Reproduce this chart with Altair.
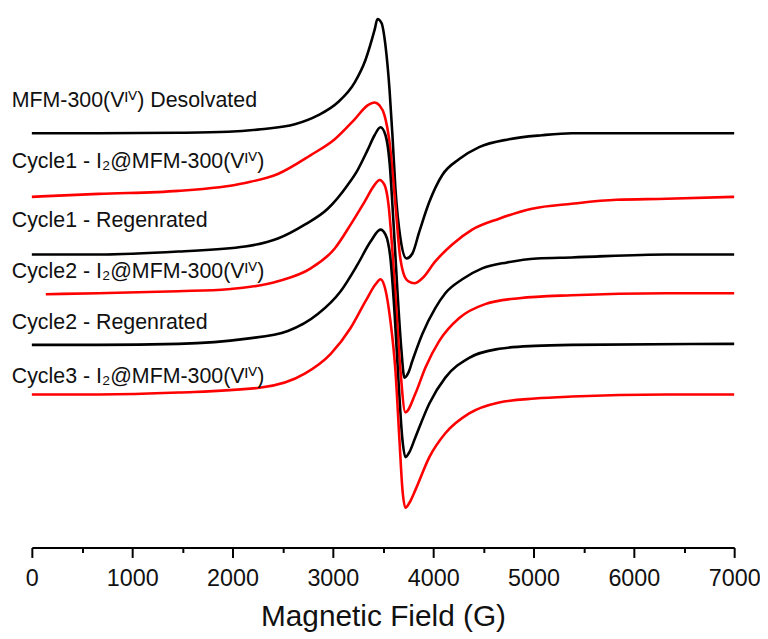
import altair as alt
import pandas as pd

# ---- data (field in G, intensity in arbitrary units) ----
series_names = [
    "Desolvated", "Cycle1 I2", "Cycle1 Regen", "Cycle2 I2", "Cycle2 Regen", "Cycle3 I2",
]
series_colors = ["#000000", "#ff0000", "#000000", "#ff0000", "#000000", "#ff0000"]

desolv_field = [0, 665, 1460, 1956, 2284, 2621, 2850, 3048, 3217, 3326, 3416, 3445, 3485, 3525,
                3565, 3594, 3624, 3674, 3733, 3793, 3862, 3962, 4091, 4260, 4458, 4756, 5084,
                5382, 7000]
desolv_int = [417, 417, 417.5, 418.5, 421, 426, 435, 448, 468, 491, 521, 532, 528, 505,
              461, 415, 361, 311, 291, 296, 318, 348, 375, 391, 403, 411, 415,
              417, 417]

c1i_field = [0, 665, 1459, 2125, 2452, 2780, 3019, 3217, 3346, 3416, 3465, 3515, 3565, 3604,
             3634, 3664, 3704, 3753, 3813, 3892, 4021, 4190, 4389, 4657, 4985, 5382, 5828,
             6325, 7000]
c1i_int = [353, 356, 359, 367, 376, 395, 411, 431, 445, 448, 445, 435, 408, 368,
           333, 298, 276, 268, 266, 271, 288, 305, 320, 331, 341, 346, 350,
           351, 353]

c1r_field = [0, 665, 1460, 2125, 2452, 2720, 2949, 3148, 3247, 3346, 3416, 3475, 3525, 3565,
             3604, 3644, 3684, 3713, 3753, 3793, 3892, 4021, 4121, 4290, 4488, 4736, 5034,
             5382, 6325, 7000]
c1r_int = [295, 295, 298, 303, 311, 325, 341, 365, 380, 400, 415, 423, 415, 388,
           328, 258, 198, 171, 176, 188, 215, 241, 256, 270, 281, 287, 291,
           292, 295, 295]

c2i_field = [139, 665, 1460, 1956, 2452, 2780, 3019, 3177, 3316, 3416, 3465, 3515, 3555, 3594,
             3634, 3674, 3723, 3823, 3922, 4061, 4260, 4518, 4856, 5382, 6325, 7000]
c2i_int = [255, 256, 258, 260, 268, 281, 301, 325, 348, 365, 370, 365, 345, 298,
           238, 178, 136, 155, 181, 208, 231, 245, 251, 254, 256, 256]

c2r_field = [0, 665, 1460, 2125, 2552, 2850, 3078, 3247, 3376, 3475, 3525, 3574, 3614, 3654,
             3694, 3723, 3763, 3823, 3962, 4121, 4359, 4657, 5014, 5382, 7000]
c2r_int = [204, 204, 205, 210, 218, 235, 258, 285, 308, 320, 315, 291, 238, 168,
           108, 91, 96, 111, 145, 171, 191, 200, 203, 204, 205]

c3i_field = [0, 665, 1460, 2284, 2720, 2979, 3177, 3326, 3426, 3475, 3515, 3574, 3624, 3664,
             3694, 3723, 3763, 3823, 3962, 4121, 4359, 4657, 5014, 5382, 6325, 7000]
c3i_int = [154, 154, 156, 161, 175, 195, 221, 248, 265, 270, 263, 228, 178, 108,
           58, 40, 45, 58, 91, 115, 135, 146, 150, 152, 154, 154]

label_texts = [
    "MFM-300(V\u1d35\u2c7d) Desolvated",
    "Cycle1 - I\u2082@MFM-300(V\u1d35\u2c7d)",
    "Cycle1 - Regenrated",
    "Cycle2 - I\u2082@MFM-300(V\u1d35\u2c7d)",
    "Cycle2 - Regenrated",
    "Cycle3 - I\u2082@MFM-300(V\u1d35\u2c7d)",
]
label_field = [-200, -200, -200, -200, -200, -200]
label_int = [449, 388, 329, 277, 226, 172]

tick_values = list(range(0, 7001, 500))

# ---- build tables ----
curves = [
    (desolv_field, desolv_int), (c1i_field, c1i_int), (c1r_field, c1r_int),
    (c2i_field, c2i_int), (c2r_field, c2r_int), (c3i_field, c3i_int),
]
rows = []
for name, (fx, fy) in zip(series_names, curves):
    for a, b in zip(fx, fy):
        rows.append({"field": a, "intensity": b, "series": name})
df = pd.DataFrame(rows)
labels_df = pd.DataFrame({"x": label_field, "y": label_int, "label": label_texts})

FONT = "Liberation Sans, Arial, DejaVu Sans, sans-serif"

xscale = alt.Scale(domain=[0, 7000], nice=False)
yscale = alt.Scale(domain=[0, 538], nice=False, zero=False)

lines = alt.Chart(df).mark_line(strokeWidth=2.6, interpolate="monotone").encode(
    x=alt.X("field:Q", scale=xscale, title="Magnetic Field (G)",
            axis=alt.Axis(
                values=tick_values,
                labelExpr="datum.value % 1000 === 0 ? datum.label : ''",
                format="d",
                tickSize={"condition": {"test": "datum.value % 1000 === 0", "value": 10}, "value": 5},
                tickWidth=2, tickColor="black",
                domainWidth=2, domainColor="black",
                labelFontSize=23.5, labelFont=FONT, labelColor="#111111",
                labelPadding=9, labelFlush=False, labelOverlap=False,
                titleFontSize=30, titleFont=FONT, titleFontWeight="normal",
                titleColor="#111111", titlePadding=12,
                grid=False,
            )),
    y=alt.Y("intensity:Q", scale=yscale, axis=None),
    color=alt.Color("series:N", scale=alt.Scale(domain=series_names, range=series_colors),
                    legend=None),
    detail="series:N",
)

texts = alt.Chart(labels_df).mark_text(
    align="left", baseline="middle", fontSize=21.5, font=FONT, color="#111111"
).encode(
    x=alt.X("x:Q", scale=xscale),
    y=alt.Y("y:Q", scale=yscale),
    text="label:N",
)

chart = alt.layer(lines, texts).properties(
    width=707, height=538,
    padding={"left": 24, "top": 3, "right": 26, "bottom": 89},
    autosize=alt.AutoSizeParams(type="none"),
    background="white",
).configure_view(stroke=None)

chart.save("out.html", embed_options={"renderer": "svg", "actions": False})
